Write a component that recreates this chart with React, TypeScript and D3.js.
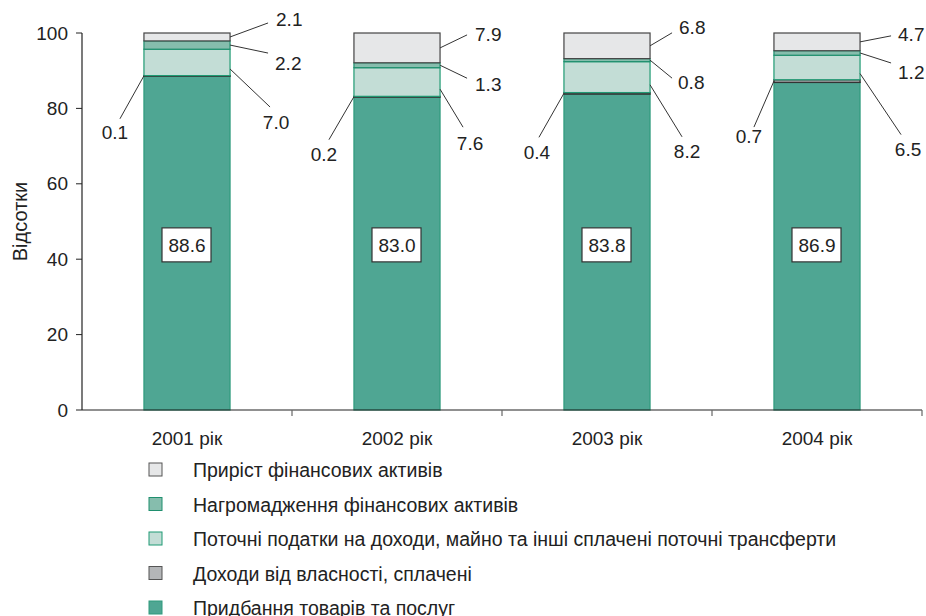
import React from "react";
import * as d3 from "d3";

const categories = ["2001 рік", "2002 рік", "2003 рік", "2004 рік"];
const seriesNames = [
  "Придбання товарів та послуг",
  "Доходи від власності, сплачені",
  "Поточні податки на доходи, майно та інші сплачені поточні трансферти",
  "Нагромадження фінансових активів",
  "Приріст фінансових активів",
];
const purchases = [88.6, 83.0, 83.8, 86.9];
const propertyIncome = [0.1, 0.2, 0.4, 0.7];
const currentTaxes = [7.0, 7.6, 8.2, 6.5];
const accumulation = [2.2, 1.3, 0.8, 1.2];
const growth = [2.1, 7.9, 6.8, 4.7];
const yTicks = [0, 20, 40, 60, 80, 100];
const yLabel = "Відсотки";

// styles
const fills = ["#4fa693", "#b4b6b8", "#c3ddd6", "#86bdad", "#e6e7e8"];
const strokes = ["#2f9a7d", "#333333", "#1f9a74", "#1f8f6e", "#444444"];

// callout layout per series index (1..4) per category: [side, anchorFrac, dx, dy, tx, ty]
// side: 1 = right edge, -1 = left edge
const calloutLayout: Record<number, [number, number, number, number, number, number][]> = {
  4: [
    [1, 0.5, 38, -14, 8, -3],
    [1, 0.5, 27, -13, 8, 0],
    [1, 0.5, 22, -13, 7, -5],
    [1, 0.5, 31, -6, 7, -1],
  ],
  3: [
    [1, 0.5, 38, 8, 7, 10],
    [1, 0.5, 27, 13, 8, 6],
    [1, 0.5, 22, 18, 6, 4],
    [1, 0.5, 31, 10, 7, 10],
  ],
  2: [
    [1, 0.25, 40, 38, 6, 15],
    [1, 0.25, 23, 38, 7, 16],
    [1, 0.25, 32, 52, 5, 15],
    [1, 0.25, 41, 61, 7, 15],
  ],
  1: [
    [-1, 0.5, -24, 43, -5, 14],
    [-1, 0.5, -25, 43, -5, 15],
    [-1, 0.5, -25, 44, -2, 15],
    [-1, 0.5, -20, 46, -5, 9],
  ],
};

const legendOrder = [4, 3, 2, 1, 0];

export default function App() {
  const W = 926;
  const H = 616;
  const x0 = 82;
  const x1 = 922;
  const yScale = d3.scaleLinear().domain([0, 100]).range([410, 33]);
  const xBand = d3.scaleBand<string>().domain(categories).range([x0, x1]).paddingInner(0.59).paddingOuter(0.295);
  const xCat = d3.scaleBand<string>().domain(categories).range([x0, x1]);

  const series = [purchases, propertyIncome, currentTaxes, accumulation, growth];
  const rows = categories.map((c, i) => {
    const o: Record<string, number | string> = { cat: c };
    series.forEach((s, k) => (o["s" + k] = s[i]));
    return o;
  });
  const stack = d3.stack<any>().keys(series.map((_, k) => "s" + k));
  const stacked = stack(rows);

  const font = "'Liberation Sans', Arial, Helvetica, sans-serif";
  const bw = xBand.bandwidth();

  return (
    <svg width={W} height={H} style={{ position: "absolute", left: 0, top: 0, background: "#fff" }} fontFamily={font}>
      {/* bars */}
      {stacked.map((layer, k) =>
        layer.map((d, i) => {
          const x = xBand(categories[i])!;
          const yt = yScale(d[1]);
          const yb = yScale(d[0]);
          return (
            <rect
              key={`b${k}-${i}`}
              x={x}
              y={yt}
              width={bw}
              height={Math.max(yb - yt, 0.6)}
              fill={fills[k]}
              stroke={strokes[k]}
              strokeWidth={k === 1 ? 1.4 : 1.2}
            />
          );
        })
      )}

      {/* callouts */}
      {[1, 2, 3, 4].map((k) =>
        stacked[k].map((d, i) => {
          const [side, frac, dx, dy, tx, ty] = calloutLayout[k][i];
          const bx = xBand(categories[i])!;
          const ax = side > 0 ? bx + bw : bx;
          const ay = yScale(d[0] + (d[1] - d[0]) * frac);
          const ex = ax + dx;
          const ey = ay + dy;
          const rightLabel = k >= 3;
          return (
            <g key={`c${k}-${i}`}>
              <line x1={ax} y1={ay} x2={ex} y2={ey} stroke="#333" strokeWidth={1} />
              <text
                x={ex + tx}
                y={ey + ty}
                fontSize={19}
                fill="#222"
                textAnchor={rightLabel ? "start" : "middle"}
                dominantBaseline="central"
              >
                {series[k][i].toFixed(1)}
              </text>
            </g>
          );
        })
      )}

      {/* value boxes */}
      {categories.map((c, i) => {
        const cx = xBand(c)! + bw / 2;
        const cy = yScale(43.8);
        return (
          <g key={`v${i}`}>
            <rect x={cx - 25} y={cy - 17} width={49} height={34} fill="#fff" stroke="#333" strokeWidth={1.2} />
            <text x={cx} y={cy + 1} fontSize={19} fill="#222" textAnchor="middle" dominantBaseline="central">
              {purchases[i].toFixed(1)}
            </text>
          </g>
        );
      })}

      {/* y axis */}
      <line x1={x0} y1={yScale(100)} x2={x0} y2={yScale(0)} stroke="#222" strokeWidth={1.2} />
      {yTicks.map((t) => (
        <g key={`yt${t}`}>
          <line x1={x0 - 6} y1={yScale(t)} x2={x0} y2={yScale(t)} stroke="#222" strokeWidth={1} />
          <text x={x0 - 14} y={yScale(t)} fontSize={19} fill="#222" textAnchor="end" dominantBaseline="central">
            {t}
          </text>
        </g>
      ))}
      <text
        transform={`translate(20,${(yScale(100) + yScale(0)) / 2}) rotate(-90)`}
        fontSize={20}
        fill="#222"
        textAnchor="middle"
        dominantBaseline="central"
      >
        {yLabel}
      </text>

      {/* x axis */}
      <line x1={x0} y1={yScale(0)} x2={x1} y2={yScale(0)} stroke="#222" strokeWidth={1.2} />
      {categories.map((c, i) => (
        <g key={`xt${i}`}>
          <line
            x1={xCat(c)! + xCat.bandwidth()}
            y1={yScale(0)}
            x2={xCat(c)! + xCat.bandwidth()}
            y2={yScale(0) + 6}
            stroke="#666"
            strokeWidth={1.2}
          />
          <text x={xBand(c)! + bw / 2} y={yScale(0) + 28} fontSize={19} fill="#222" textAnchor="middle" dominantBaseline="central">
            {c}
          </text>
        </g>
      ))}

      {/* legend */}
      {legendOrder.map((k, j) => {
        const cy = 470 + j * 34.5;
        return (
          <g key={`lg${k}`}>
            <rect x={149} y={cy - 7} width={13} height={13} fill={fills[k]} stroke={k === 4 || k === 1 ? "#555" : strokes[k]} strokeWidth={1} />
            <text x={193} y={cy} fontSize={19.5} fill="#222" dominantBaseline="central">
              {seriesNames[k]}
            </text>
          </g>
        );
      })}
    </svg>
  );
}
